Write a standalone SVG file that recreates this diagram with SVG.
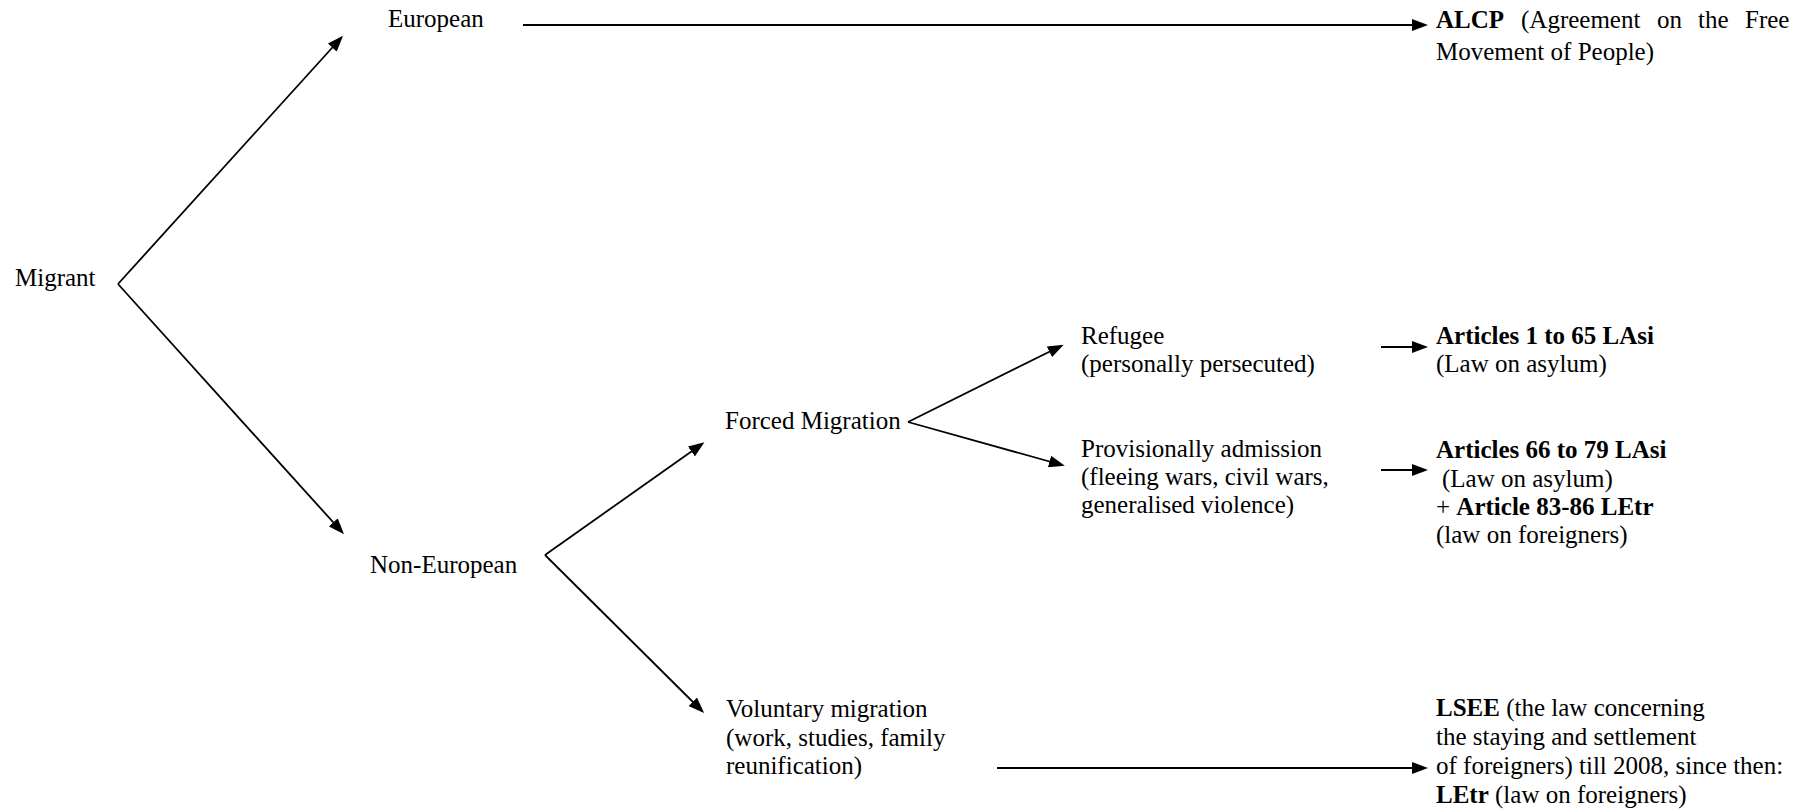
<svg xmlns="http://www.w3.org/2000/svg" width="1816" height="812" viewBox="0 0 1816 812">
  <style>
    text { font-family: "Liberation Serif", "Times New Roman", serif; font-size: 25px; fill: #000; }
    .b { font-weight: bold; }
    .conn { stroke: #000; stroke-width: 1.8; fill: none; marker-end: url(#arrow); }
  </style>
  <defs>
    <marker id="arrow" markerUnits="userSpaceOnUse" markerWidth="16" markerHeight="12" refX="13" refY="6" orient="auto">
      <path d="M0,0 L16,6 L0,12 Z" fill="#000"/>
    </marker>
  </defs>
  <rect width="1816" height="812" fill="#fff"/>

  <g id="connectors">
    <line class="conn" x1="118" y1="284" x2="341" y2="38"/>
    <line class="conn" x1="118" y1="284" x2="342" y2="532"/>
    <line class="conn" x1="523" y1="25" x2="1425" y2="25"/>
    <line class="conn" x1="545" y1="555" x2="702" y2="444"/>
    <line class="conn" x1="545" y1="555" x2="702" y2="711"/>
    <line class="conn" x1="908" y1="422" x2="1061" y2="346"/>
    <line class="conn" x1="908" y1="422" x2="1062" y2="465"/>
    <line class="conn" x1="1381" y1="347" x2="1425" y2="347"/>
    <line class="conn" x1="1381" y1="470" x2="1425" y2="470"/>
    <line class="conn" x1="997" y1="768" x2="1425" y2="768"/>
  </g>

  <g font-family="Liberation Serif, serif" font-size="25">
  <g id="migrant"><text x="15" y="286">Migrant</text></g>
  <g id="european"><text x="388" y="27">European</text></g>
  <g id="non-european"><text x="370" y="573">Non-European</text></g>
  <g id="forced-migration"><text x="725" y="429">Forced Migration</text></g>
  <g id="voluntary-migration">
    <text x="726" y="717">Voluntary migration</text>
    <text x="726" y="746">(work, studies, family</text>
    <text x="726" y="774">reunification)</text>
  </g>
  <g id="refugee">
    <text x="1081" y="344">Refugee</text>
    <text x="1081" y="372">(personally persecuted)</text>
  </g>
  <g id="provisional-admission">
    <text x="1081" y="457">Provisionally admission</text>
    <text x="1081" y="485">(fleeing wars, civil wars,</text>
    <text x="1081" y="513">generalised violence)</text>
  </g>
  <g id="alcp">
    <text y="28"><tspan x="1436" class="b">ALCP</tspan><tspan x="1521">(Agreement</tspan><tspan x="1657">on</tspan><tspan x="1698">the</tspan><tspan x="1745">Free</tspan></text>
    <text x="1436" y="60">Movement of People)</text>
  </g>
  <g id="articles-1-65">
    <text x="1436" y="344" class="b">Articles 1 to 65 LAsi</text>
    <text x="1436" y="372">(Law on asylum)</text>
  </g>
  <g id="articles-66-79">
    <text x="1436" y="458" class="b">Articles 66 to 79 LAsi</text>
    <text x="1442" y="487">(Law on asylum)</text>
    <text x="1436" y="515">+ <tspan class="b">Article 83-86 LEtr</tspan></text>
    <text x="1436" y="543">(law on foreigners)</text>
  </g>
  <g id="lsee">
    <text x="1436" y="716"><tspan class="b">LSEE</tspan> (the law concerning</text>
    <text x="1436" y="745">the staying and settlement</text>
    <text x="1436" y="774">of foreigners) till 2008, since then:</text>
    <text x="1436" y="803"><tspan class="b">LEtr</tspan> (law on foreigners)</text>
  </g>
  </g>
</svg>
